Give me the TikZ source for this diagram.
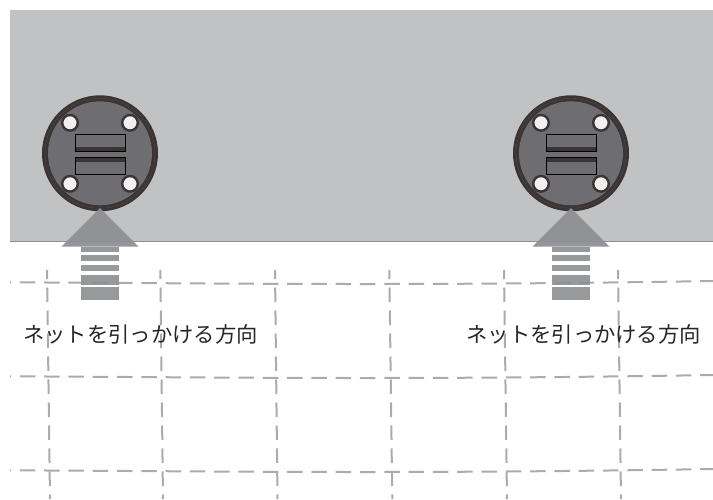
\documentclass[tikz,border=0pt]{standalone}
\usepackage{xcolor}
\usepackage{fontspec}
\newfontfamily\jpfont{Noto Sans CJK JP}
\definecolor{panelgray}{HTML}{C1C2C4}
\definecolor{edgegray}{HTML}{8E8F92}
\definecolor{discgray}{HTML}{6E6E72}
\definecolor{ringdark}{HTML}{3A3433}
\definecolor{arrowgray}{HTML}{8F9093}
\definecolor{netgray}{HTML}{ABABAE}
\tikzset{
    netH/.style={draw=netgray, line width=1pt, dash pattern=on 7.75pt off 4.4pt, dash phase=7.25pt},
    netV/.style={draw=netgray, line width=1pt, dash pattern=on 7.25pt off 4.25pt, dash phase=2.75pt},
    arrowpart/.style={fill=arrowgray, fill opacity=0.92},
    labeltext/.style={inner sep=0pt, text=black!85, font=\jpfont\fontsize{10.65}{13}\selectfont}
}

\begin{document}
\begin{tikzpicture}[x=0.5pt,y=-0.5pt] % one unit is one pixel of the reference
    \useasboundingbox (0,0) rectangle (713,499);

    % Draw the gray panel
    \fill[panelgray] (10,10) rectangle (713,241);
    \draw[edgegray, line width=0.5pt] (10,241) -- (713,241);

    % Add the horizontal net lines
    \foreach \dy in {0,94,188}
        \draw[netH] (10,282.3+\dy) .. controls (150,283+\dy) and (250,284+\dy) .. (360,284+\dy)
            .. controls (450,284+\dy) and (560,283.5+\dy) .. (713,281+\dy);

    % Add the vertical net lines
    \foreach \xa/\xb in {47/50,160.3/163,275/277.5,389.3/392.3,504/507,618/621}
        \draw[netV] (\xa,270) -- (\xb,499);

    % Draw the two round fittings with their arrows
    \foreach \cx in {100,571} {
        % Body and rim
        \fill[ringdark] (\cx,153.3) circle (58);
        \draw[ringdark!70!discgray, line width=0.3pt] (\cx,153.3) circle (55);
        \fill[discgray] (\cx,153.3) circle (52);

        % Corner holes
        \foreach \hx/\hy in {-30/-30.5,30/-30.5,-30/30.5,30/30.5}
            \draw[ringdark, line width=1.2pt, fill=white!94!black] (\cx+\hx,153.3+\hy) circle (7.8);

        % Upper and lower slot
        \fill[ringdark] (\cx-25,146.7) rectangle (\cx+25,151.5);
        \draw[black, line width=0.5pt] (\cx-25,134.5) rectangle (\cx+25,151.5);
        \fill[ringdark] (\cx-25,157) rectangle (\cx+25,161.7);
        \draw[black, line width=0.5pt] (\cx-25,157) rectangle (\cx+25,174);

        % Arrow head
        \fill[arrowgray, fill opacity=0.95] (\cx,208) -- (\cx+38.5,246.7) -- (\cx-38.5,246.7) -- cycle;

        % Arrow shaft cut into bars
        \foreach \ya/\yb in {246.7/252,255/261,264.7/271.3,275/285,287.3/300}
            \fill[arrowpart] (\cx-19,\ya) rectangle (\cx+19,\yb);
    }

    % Add the two labels
    \node[labeltext] (labelA) at (140.5,334) {ネットを引っかける方向};
    \node[labeltext] (labelB) at (583.7,334) {ネットを引っかける方向};
\end{tikzpicture}
\end{document}
